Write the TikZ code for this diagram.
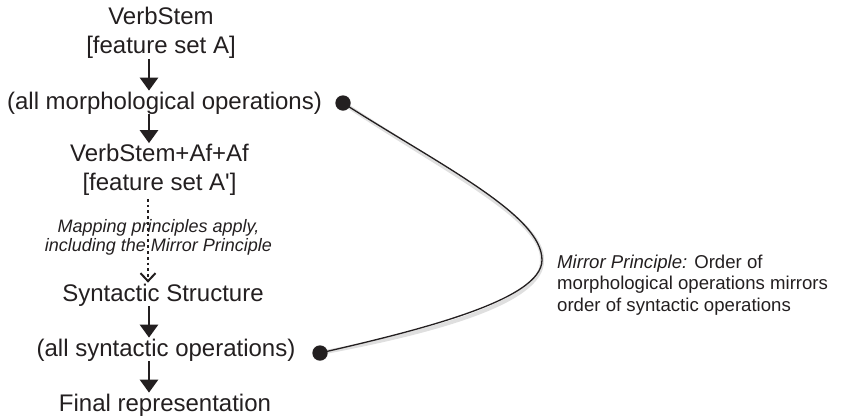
\documentclass[tikz,border=0pt]{standalone}
\usepackage{fontspec}
\setmainfont{Liberation Sans}
\usepackage{tikz}
\usetikzlibrary{arrows.meta, positioning, calc}
\definecolor{inkgray}{RGB}{35,31,32}
\definecolor{shadegray}{RGB}{185,185,185}

\tikzset{
  stage/.style={inner sep=0pt, align=center, text=inkgray,
                font=\fontsize{24}{29}\selectfont},
  note/.style={inner sep=0pt, text=inkgray,
               font=\fontsize{18.6}{21.5}\selectfont},
  steparrow/.style={draw=inkgray, line width=2.8pt,
                    -{Triangle[width=18pt,length=13pt]}},
  maparrow/.style={draw=inkgray, line width=2.8pt, dash pattern=on 2.8pt off 3pt,
                   -{Straight Barb[length=8pt,width=15pt,line width=2pt,sep=0pt]}},
  linkdot/.style={circle, fill=inkgray, minimum size=15pt, inner sep=0pt}
}

\begin{document}
\begin{tikzpicture}[x=1pt, y=-1pt]
\useasboundingbox (0,0) rectangle (846,416);

%% LEFT COLUMN – derivation stages
\coordinate (axis) at (149,0);
\node[stage] (stem)     at (161,33)  {VerbStem\\{}[feature set A]};
\node[stage] (morph)    at (164.5,103) {(all morphological operations)};
\node[stage] (affixed)  at (159.5,170) {VerbStem+Af+Af\\{}[feature set A\textquotesingle]};
\node[note, align=center, font=\fontsize{18}{19}\selectfont\itshape]
  (mapping) at (158.5,237.5) {Mapping principles apply,\\including the Mirror Principle};
\node[stage] (synstruct) at (163,295) {Syntactic Structure};
\node[stage] (synops)    at (166,350) {(all syntactic operations)};
\node[stage] (final)     at (165,405) {Final representation};

\draw[steparrow] ($(stem.south -| axis)+(0,0)$) -- ($(morph.north -| axis)+(0,-1)$);
\draw[steparrow] ($(morph.south -| axis)+(0,0)$) -- ($(affixed.north -| axis)+(0,-1)$);
\draw[maparrow]  ($(affixed.south -| axis)+(-1,3)$) -- ($(synstruct.north -| axis)+(-1,-1)$);
\draw[steparrow] ($(synstruct.south -| axis)+(0,0)$) -- ($(synops.north -| axis)+(0,-1)$);
\draw[steparrow] ($(synops.south -| axis)+(0,0)$) -- ($(final.north -| axis)+(0,-1)$);

%% RIGHT SIDE – the mirror link
\node[linkdot] (dottop) at (343,103) {};
\node[linkdot] (dotbot) at (320,353) {};
\coordinate (apex) at (542,260);
\begin{scope}[shift={(2,4)}]
  \draw[shadegray, line width=4pt, opacity=0.45]
    (dottop.center) .. controls (440,165) and (542,215) .. (apex)
    .. controls (542,300) and (420,330) .. (dotbot.center);
  \fill[shadegray, opacity=0.45] (dottop.center) circle (8pt) (dotbot.center) circle (8pt);
\end{scope}
\draw[inkgray, line width=1.3pt]
  (dottop.center) .. controls (440,165) and (542,215) .. (apex)
  .. controls (542,300) and (420,330) .. (dotbot.center);
\node[linkdot] at (dottop) {};
\node[linkdot] at (dotbot) {};
\node[note, anchor=west, align=left] (mirror) at (557,285)
  {\textit{Mirror Principle:} Order of\\morphological operations mirrors\\order of syntactic operations};
\end{tikzpicture}
\end{document}
